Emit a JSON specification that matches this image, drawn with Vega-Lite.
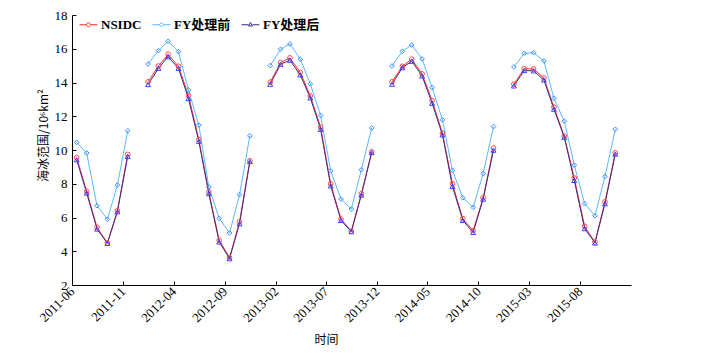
{
  "$schema": "https://vega.github.io/schema/vega-lite/v6.json",
  "width": 559,
  "height": 270,
  "autosize": "none",
  "padding": {"left": 72, "top": 15, "right": 74, "bottom": 68},
  "background": "white",
  "config": {
    "view": {"stroke": null},
    "font": "Liberation Serif, Noto Sans CJK SC",
    "axis": {
      "grid": false,
      "domainColor": "black",
      "tickColor": "black",
      "labelColor": "black",
      "titleColor": "black",
      "labelFont": "Liberation Serif, Noto Sans CJK SC",
      "titleFont": "Liberation Serif, Noto Sans CJK SC",
      "labelFontSize": 13,
      "titleFontSize": 13,
      "titleFontWeight": "normal",
      "tickSize": -4,
      "domainWidth": 1,
      "tickWidth": 1
    }
  },
  "data": {
    "values": [
      {"date": "2011-06-15", "NSIDC": 9.55, "FY处理前": 10.45, "FY处理后": 9.42},
      {"date": "2011-07-15", "NSIDC": 7.55, "FY处理前": 9.82, "FY处理后": 7.45},
      {"date": "2011-08-15", "NSIDC": 5.42, "FY处理前": 6.70, "FY处理后": 5.32},
      {"date": "2011-09-15", "NSIDC": 4.49, "FY处理前": 5.89, "FY处理后": 4.47},
      {"date": "2011-10-15", "NSIDC": 6.40, "FY处理前": 7.92, "FY处理后": 6.34},
      {"date": "2011-11-15", "NSIDC": 9.74, "FY处理前": 11.14, "FY处理后": 9.62},
      {"date": "2012-01-15", "NSIDC": 14.04, "FY处理前": 15.10, "FY处理后": 13.88},
      {"date": "2012-02-15", "NSIDC": 14.98, "FY处理前": 15.89, "FY处理后": 14.84},
      {"date": "2012-03-15", "NSIDC": 15.67, "FY处理前": 16.44, "FY处理后": 15.53},
      {"date": "2012-04-15", "NSIDC": 14.96, "FY处理前": 15.83, "FY处理后": 14.84},
      {"date": "2012-05-15", "NSIDC": 13.23, "FY处理前": 13.56, "FY处理后": 13.05},
      {"date": "2012-06-15", "NSIDC": 10.62, "FY处理前": 11.47, "FY处理后": 10.52},
      {"date": "2012-07-15", "NSIDC": 7.51, "FY处理前": 7.80, "FY处理后": 7.41},
      {"date": "2012-08-15", "NSIDC": 4.65, "FY处理前": 5.95, "FY处理后": 4.55},
      {"date": "2012-09-15", "NSIDC": 3.62, "FY处理前": 5.08, "FY处理后": 3.56},
      {"date": "2012-10-15", "NSIDC": 5.75, "FY处理前": 7.35, "FY处理后": 5.63},
      {"date": "2012-11-15", "NSIDC": 9.36, "FY处理前": 10.84, "FY处理后": 9.32},
      {"date": "2013-01-15", "NSIDC": 14.02, "FY处理前": 15.00, "FY处理后": 13.90},
      {"date": "2013-02-15", "NSIDC": 15.18, "FY处理前": 15.97, "FY处理后": 15.08},
      {"date": "2013-03-15", "NSIDC": 15.46, "FY处理前": 16.28, "FY处理后": 15.32},
      {"date": "2013-04-15", "NSIDC": 14.59, "FY处理前": 15.38, "FY处理后": 14.45},
      {"date": "2013-05-15", "NSIDC": 13.21, "FY处理前": 13.92, "FY处理后": 13.09},
      {"date": "2013-06-15", "NSIDC": 11.35, "FY处理前": 12.04, "FY处理后": 11.23},
      {"date": "2013-07-15", "NSIDC": 8.00, "FY处理前": 8.77, "FY处理后": 7.88},
      {"date": "2013-08-15", "NSIDC": 5.91, "FY处理前": 7.09, "FY处理后": 5.83},
      {"date": "2013-09-15", "NSIDC": 5.20, "FY处理前": 6.50, "FY处理后": 5.16},
      {"date": "2013-10-15", "NSIDC": 7.41, "FY处理前": 8.83, "FY处理后": 7.33},
      {"date": "2013-11-15", "NSIDC": 9.89, "FY处理前": 11.31, "FY处理后": 9.85},
      {"date": "2014-01-15", "NSIDC": 14.04, "FY处理前": 14.98, "FY处理后": 13.90},
      {"date": "2014-02-15", "NSIDC": 14.96, "FY处理前": 15.85, "FY处理后": 14.88},
      {"date": "2014-03-15", "NSIDC": 15.38, "FY处理前": 16.22, "FY处理后": 15.26},
      {"date": "2014-04-15", "NSIDC": 14.51, "FY处理前": 15.40, "FY处理后": 14.39},
      {"date": "2014-05-15", "NSIDC": 12.93, "FY处理前": 13.70, "FY处理后": 12.77},
      {"date": "2014-06-15", "NSIDC": 11.00, "FY处理前": 11.79, "FY处理后": 10.90},
      {"date": "2014-07-15", "NSIDC": 8.00, "FY处理前": 8.79, "FY处理后": 7.84},
      {"date": "2014-08-15", "NSIDC": 5.93, "FY处理前": 7.17, "FY处理后": 5.83},
      {"date": "2014-09-15", "NSIDC": 5.22, "FY处理前": 6.60, "FY处理后": 5.12},
      {"date": "2014-10-15", "NSIDC": 7.17, "FY处理前": 8.61, "FY处理后": 7.09},
      {"date": "2014-11-15", "NSIDC": 10.11, "FY处理前": 11.39, "FY处理后": 9.99},
      {"date": "2015-01-15", "NSIDC": 13.90, "FY处理前": 14.92, "FY处理后": 13.80},
      {"date": "2015-02-15", "NSIDC": 14.82, "FY处理前": 15.73, "FY处理后": 14.71},
      {"date": "2015-03-15", "NSIDC": 14.80, "FY处理前": 15.77, "FY处理后": 14.69},
      {"date": "2015-04-15", "NSIDC": 14.27, "FY处理前": 15.28, "FY处理后": 14.15},
      {"date": "2015-05-15", "NSIDC": 12.54, "FY处理前": 13.07, "FY处理后": 12.42},
      {"date": "2015-06-15", "NSIDC": 10.82, "FY处理前": 11.71, "FY处理后": 10.76},
      {"date": "2015-07-15", "NSIDC": 8.34, "FY处理前": 9.10, "FY处理后": 8.20},
      {"date": "2015-08-15", "NSIDC": 5.48, "FY处理前": 6.82, "FY处理后": 5.34},
      {"date": "2015-09-15", "NSIDC": 4.55, "FY处理前": 6.11, "FY处理后": 4.49},
      {"date": "2015-10-15", "NSIDC": 6.93, "FY处理前": 8.43, "FY处理后": 6.82},
      {"date": "2015-11-15", "NSIDC": 9.83, "FY处理前": 11.23, "FY处理后": 9.76}
    ]
  },
  "transform": [
    {"fold": ["NSIDC", "FY处理前", "FY处理后"], "as": ["series", "v"]}
  ],
  "encoding": {
    "x": {
      "field": "date",
      "type": "temporal",
      "scale": {
        "type": "utc",
        "domain": [
          {"year": 2011, "month": 6, "date": 1, "utc": true},
          {"year": 2016, "month": 1, "date": 1, "utc": true}
        ]
      },
      "axis": {
        "title": "时间",
        "values": [
          {"year": 2011, "month": 6, "date": 1, "utc": true},
          {"year": 2011, "month": 11, "date": 1, "utc": true},
          {"year": 2012, "month": 4, "date": 1, "utc": true},
          {"year": 2012, "month": 9, "date": 1, "utc": true},
          {"year": 2013, "month": 2, "date": 1, "utc": true},
          {"year": 2013, "month": 7, "date": 1, "utc": true},
          {"year": 2013, "month": 12, "date": 1, "utc": true},
          {"year": 2014, "month": 5, "date": 1, "utc": true},
          {"year": 2014, "month": 10, "date": 1, "utc": true},
          {"year": 2015, "month": 3, "date": 1, "utc": true},
          {"year": 2015, "month": 8, "date": 1, "utc": true}
        ],
        "labelExpr": "utcFormat(datum.value, '%Y-%m')",
        "labelAngle": -45,
        "labelAlign": "right",
        "labelBaseline": "middle",
        "labelPadding": 8,
        "labelOverlap": false,
        "labelFlush": false,
        "titleX": 254,
        "titleY": 54,
        "titleBaseline": "middle",
        "titleAlign": "center",
        "titleFont": "Noto Sans CJK SC",
        "titleFontSize": 12
      }
    },
    "y": {
      "field": "v",
      "type": "quantitative",
      "scale": {"domain": [2, 18], "nice": false, "zero": false},
      "axis": {
        "title": "海冰范围/10⁶km²",
        "values": [2, 4, 6, 8, 10, 12, 14, 16, 18],
        "labelPadding": 9,
        "titleAngle": -90,
        "titleX": -29,
        "titleY": 120,
        "titleAlign": "center",
        "titleBaseline": "middle",
        "titleFont": "Noto Sans CJK SC",
        "titleFontSize": 12
      }
    }
  },
  "layer": [
    {
      "mark": {"type": "line", "strokeWidth": 1},
      "encoding": {
        "color": {
          "field": "series",
          "type": "nominal",
          "sort": ["NSIDC", "FY处理前", "FY处理后"],
          "scale": {
            "domain": ["NSIDC", "FY处理前", "FY处理后"],
            "range": ["#ff2a2a", "#5cb8ff", "#3b2a8c"]
          },
          "legend": {
            "title": null,
            "orient": "none",
            "legendX": 7,
            "legendY": 0,
            "direction": "horizontal",
            "labelFont": "Liberation Serif, Noto Sans CJK SC",
            "labelFontWeight": "bold",
            "labelFontSize": 13,
            "labelColor": "black",
            "labelOffset": 3,
            "columnPadding": 8,
            "symbolSize": 324,
            "symbolStrokeWidth": 1,
            "encode": {
              "symbols": {
                "update": {
                  "fill": {"value": "transparent"},
                  "shape": {"signal": "datum.value === 'NSIDC' ? 'M-1,0H-0.22M0.22,0H1M0.22,0A0.22,0.22 0 1,1 -0.22,0A0.22,0.22 0 1,1 0.22,0' : (datum.value === 'FY处理前' ? 'M-1,0H-0.25M0.25,0H1M0,-0.25L0.25,0L0,0.25L-0.25,0Z' : 'M-1,0H-0.22M0.22,0H1M0,-0.25L0.22,0.14L-0.22,0.14Z')"}
                }
              }
            }
          }
        },
        "detail": {"field": "date", "timeUnit": "utcyear", "type": "ordinal"}
      }
    },
    {
      "transform": [{"filter": "datum.series === 'NSIDC'"}],
      "mark": {"type": "point", "filled": false, "size": 22, "strokeWidth": 1, "shape": "circle", "stroke": "#ff4a4a", "opacity": 1}
    },
    {
      "transform": [{"filter": "datum.series === 'FY处理前'"}],
      "mark": {"type": "point", "filled": false, "size": 22, "strokeWidth": 1, "shape": "diamond", "stroke": "#3d8fff", "opacity": 1}
    },
    {
      "transform": [{"filter": "datum.series === 'FY处理后'"}],
      "mark": {"type": "point", "filled": false, "size": 24, "strokeWidth": 1, "shape": "triangle-up", "stroke": "#3346ff", "opacity": 1}
    }
  ]
}
